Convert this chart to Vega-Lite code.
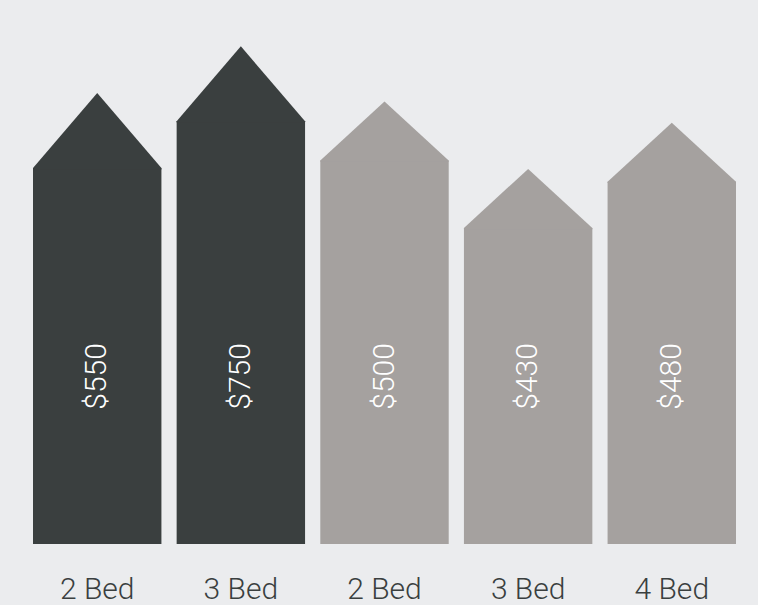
{
  "$schema": "https://vega.github.io/schema/vega-lite/v6.json",
  "autosize": {"type": "none"},
  "width": 703,
  "height": 544,
  "padding": {"left": 33, "right": 22, "top": 0, "bottom": 61},
  "background": "#ebecee",
  "config": {"view": {"stroke": null}, "font": "Roboto"},
  "data": {
    "values": [
      {"key": "2 Bed A", "unit": "2 Bed", "group": "A", "rent": "$550", "level": 69.1},
      {"key": "3 Bed A", "unit": "3 Bed", "group": "A", "rent": "$750", "level": 77.7},
      {"key": "2 Bed B", "unit": "2 Bed", "group": "B", "rent": "$500", "level": 70.5},
      {"key": "3 Bed B", "unit": "3 Bed", "group": "B", "rent": "$430", "level": 58.1},
      {"key": "4 Bed B", "unit": "4 Bed", "group": "B", "rent": "$480", "level": 66.6}
    ]
  },
  "encoding": {
    "x": {
      "field": "key",
      "type": "nominal",
      "sort": null,
      "scale": {"paddingInner": 0.106, "paddingOuter": 0},
      "axis": {
        "title": null,
        "domain": false,
        "ticks": false,
        "labelAngle": 0,
        "labelFontSize": 30,
        "labelFontWeight": 300,
        "labelColor": "#3a3f3f",
        "labelPadding": 30,
        "labelBaseline": "top",
        "labelExpr": "slice(datum.label, 0, 5)"
      }
    }
  },
  "layer": [
    {
      "mark": {"type": "bar", "cornerRadius": 0},
      "encoding": {
        "y": {"field": "level", "type": "quantitative", "scale": {"domain": [0, 100]}, "axis": null},
        "color": {"field": "group", "type": "nominal", "scale": {"domain": ["A", "B"], "range": ["#3a3f3f", "#a5a19f"]}, "legend": null}
      }
    },
    {
      "mark": {"type": "point", "filled": true, "opacity": 1, "size": 16487, "strokeWidth": 0},
      "encoding": {
        "y": {"field": "level", "type": "quantitative"},
        "color": {"field": "group", "type": "nominal", "legend": null},
        "shape": {
          "field": "group",
          "type": "nominal",
          "scale": {"domain": ["A", "B"], "range": ["M-1,0.02L-1,0L0,-1.168L1,0L1,0.02Z", "M-1,0.02L-1,0L0,-0.919L1,0L1,0.02Z"]},
          "legend": null
        }
      }
    },
    {
      "mark": {"type": "text", "angle": 270, "align": "center", "baseline": "middle", "fontSize": 30, "fontWeight": 300, "color": "#ffffff"},
      "encoding": {
        "y": {"datum": 30.8, "type": "quantitative"},
        "text": {"field": "rent"}
      }
    }
  ]
}
